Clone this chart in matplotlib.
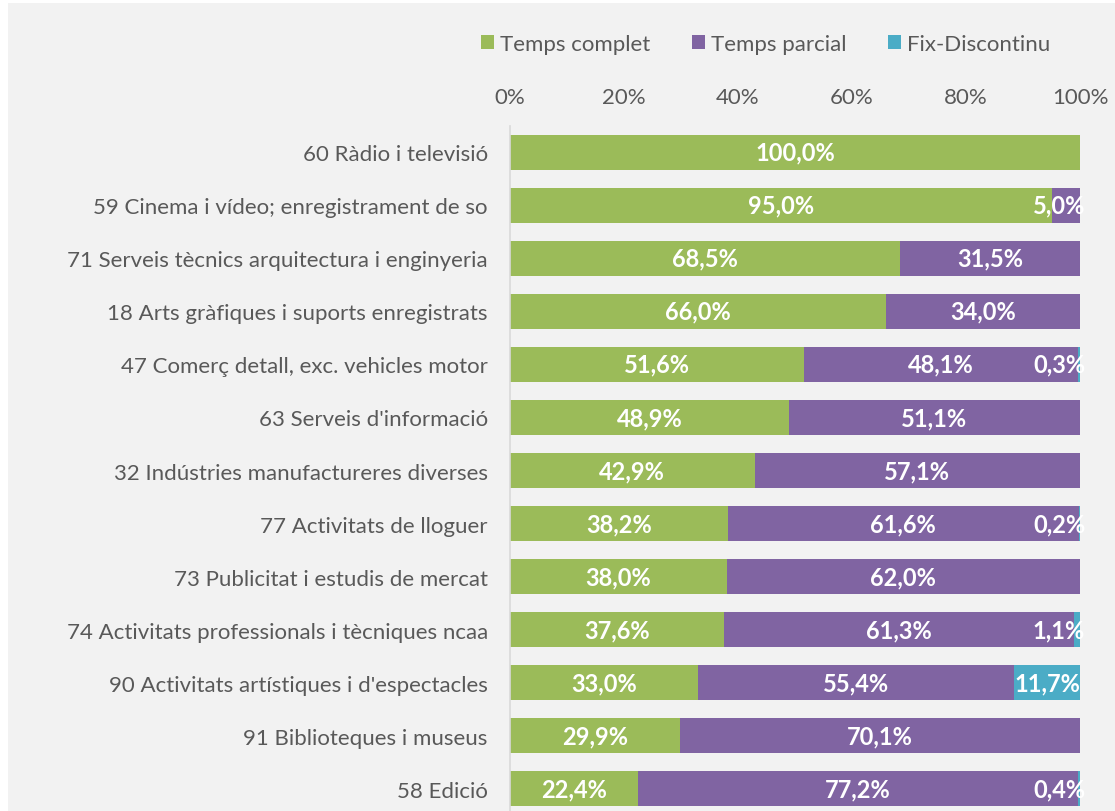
import matplotlib
import matplotlib.pyplot as plt
from matplotlib.patches import Rectangle

matplotlib.use('Agg')

CATEGORIES = [
    "60 Ràdio i televisió",
    "59 Cinema i vídeo; enregistrament de so",
    "71 Serveis tècnics arquitectura i enginyeria",
    "18 Arts gràfiques i suports enregistrats",
    "47 Comerç detall, exc. vehicles motor",
    "63 Serveis d'informació",
    "32 Indústries manufactureres diverses",
    "77 Activitats de lloguer",
    "73 Publicitat i estudis de mercat",
    "74 Activitats professionals i tècniques ncaa",
    "90 Activitats artístiques i d'espectacles",
    "91 Biblioteques i museus",
    "58 Edició",
]
TEMPS_COMPLET = [100.0, 95.0, 68.5, 66.0, 51.6, 48.9, 42.9, 38.2, 38.0, 37.6, 33.0, 29.9, 22.4]
TEMPS_PARCIAL = [0.0, 5.0, 31.5, 34.0, 48.1, 51.1, 57.1, 61.6, 62.0, 61.3, 55.4, 70.1, 77.2]
FIX_DISCONTINU = [0.0, 0.0, 0.0, 0.0, 0.3, 0.0, 0.0, 0.2, 0.0, 1.1, 11.7, 0.0, 0.4]
SERIES_NAMES = ["Temps complet", "Temps parcial", "Fix-Discontinu"]
X_TICKS = [0, 20, 40, 60, 80, 100]

COLORS = ["#9BBB59", "#8064A2", "#4BACC6"]
TEXT_GRAY = "#595959"
FONT = ["Lato", "DejaVu Sans"]


def fmt(v):
    return f"{v:.1f}".replace(".", ",") + "%"


def draw_chart():
    fig = plt.figure(figsize=(11.15, 8.12), dpi=100)
    fig.patch.set_facecolor("white")
    # grey chart area, the picture is cropped on the left/top/bottom
    fig.patches.append(Rectangle((8 / 1115, 0), 1, 1 - 4 / 812, transform=fig.transFigure,
                                 facecolor="#F2F2F2", edgecolor="none", zorder=-10))

    # axes runs slightly past the bottom edge (last row is cut)
    top = 1 - 126.5 / 812
    bottom = -4.5 / 812
    ax = fig.add_axes([510 / 1115, bottom, 570 / 1115, top - bottom])
    ax.set_facecolor("none")

    y = list(range(len(CATEGORIES)))
    lefts = [0.0] * len(CATEGORIES)
    bars = []
    for name, vals, color in zip(SERIES_NAMES, [TEMPS_COMPLET, TEMPS_PARCIAL, FIX_DISCONTINU], COLORS):
        b = ax.barh(y, vals, left=lefts, height=0.66, color=color, label=name)
        bars.append(b)
        # labels: centred, small segments pushed to the right end
        for i, v in enumerate(vals):
            if v <= 0:
                continue
            if v < 6:
                ax.text(100.9, i, fmt(v), ha="right", va="center", color="white",
                        fontsize=17, fontweight="bold", family=FONT, clip_on=False)
            else:
                ax.text(lefts[i] + v / 2, i, fmt(v), ha="center", va="center", color="white",
                        fontsize=17, fontweight="bold", family=FONT)
        lefts = [l + v for l, v in zip(lefts, vals)]

    ax.set_xlim(0, 100)
    ax.set_ylim(len(CATEGORIES) - 0.5, -0.5)
    ax.xaxis.tick_top()
    ax.set_xticks(X_TICKS)
    ax.set_xticklabels([f"{t}%" for t in X_TICKS])
    ax.set_yticks(y)
    ax.set_yticklabels(CATEGORIES)
    ax.tick_params(axis="x", length=0, pad=13, labelsize=16, labelcolor=TEXT_GRAY)
    ax.tick_params(axis="y", length=0, pad=16, labelsize=16, labelcolor=TEXT_GRAY)
    for lbl in ax.get_xticklabels() + ax.get_yticklabels():
        lbl.set_family(FONT)

    for side in ["top", "right", "bottom"]:
        ax.spines[side].set_visible(False)
    ax.spines["left"].set_color("#D9D9D9")
    ax.spines["left"].set_linewidth(1.2)

    fig.legend(handles=bars, loc="center", bbox_to_anchor=(765.5 / 1115, 1 - 45 / 812), ncol=3,
               frameon=False, handlelength=0.6, handleheight=0.6, handletextpad=0.27,
               columnspacing=1.85, prop={"family": FONT, "size": 16}, labelcolor=TEXT_GRAY)

    fig.savefig("out.png", dpi=100, facecolor=fig.get_facecolor())


if __name__ == "__main__":
    draw_chart()
